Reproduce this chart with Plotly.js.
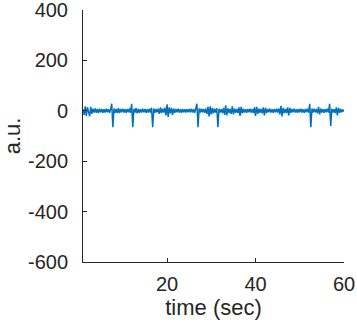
<!DOCTYPE html>
<html>
<head>
<meta charset="utf-8">
<script src="https://cdn.plot.ly/plotly-3.0.1.min.js"></script>
<style>
  html, body { margin: 0; padding: 0; background: #fff; }
  #plot { width: 357px; height: 328px; }
</style>
</head>
<body>
<div id="plot"></div>
<script>
// sampled every 0.25 s starting at t = 1 s
var tStart = 1;
var tStep = 0.25;

// signal (a.u.), 20 samples per row (5 s)
var signal = [
  6, -16, 18, -20, 14, -10, -22, 16, -12, 8, -7, 9, -8, 7, -9, 8, -6, 7, -8, 6,
  -7, 8, -6, 7, -8, 6, 28, -65, 9, -8, 7, -9, 10, -9, 7, -6, 8, -7, 6, -8,
  7, -6, 9, -8, 28, -65, 8, -7, 11, -10, 7, -8, 6, -7, 8, -6, 7, -8, 6, -7,
  8, -7, 12, -65, 9, -8, 7, -6, 8, -12, 14, -9, 8, -7, 12, -18, 26, -24, 14, -10,
  12, -16, 9, -8, 7, -6, 8, -7, 6, -8, 7, -6, 6, -7, 6, -6, 7, -6, 8, -7,
  6, -8, 7, 28, -65, 9, -7, 8, -6, 7, -8, 9, -12, 16, -22, 18, -14, 12, -10, 8,
  -7, 10, -65, 8, -7, 6, -9, 12, -16, 22, -18, 10, -8, 7, -12, 18, -14, 9, -8, 7,
  -9, 14, -20, 16, -10, 8, -7, 6, -8, 7, -6, 8, -7, 6, -9, 14, -20, 16, -12, 9,
  -8, 7, -10, 14, -18, 12, -9, 7, -6, 8, -7, 6, -8, 7, -6, 8, -7, 9, -14, 20,
  -22, 12, -9, 7, -9, 14, -18, 12, -8, 7, -6, 8, -7, 6, -8, 7, -6, 8, -7, 6,
  -8, 7, -6, 8, -7, 28, -65, 9, -7, 8, -6, 7, -10, 16, -14, 9, -7, 6, -8, 7,
  -6, 8, -7, 28, -60, 8, -7, 6, -9, 14, -18, 12, -8, 7, -6, 5, -3
];

var xTicks = [20, 40, 60];
var yTicks = [-600, -400, -200, 0, 200, 400];
var yTickText = ['-600', '-400', '-200', '0', '200', '400'];

var axisColor = '#262626';

var trace = {
  y: signal,
  x0: tStart,
  dx: tStep,
  type: 'scatter',
  mode: 'lines',
  line: { color: '#0072BD', width: 1.5 },
  hoverinfo: 'skip'
};

var layout = {
  width: 357,
  height: 328,
  margin: { l: 83, r: 13, t: 10, b: 66 },
  paper_bgcolor: '#fff',
  plot_bgcolor: '#fff',
  showlegend: false,
  font: { family: 'Liberation Sans, Arial, sans-serif', size: 20, color: axisColor },
  xaxis: {
    range: [1, 60],
    tickvals: xTicks,
    ticks: 'inside',
    ticklen: 4,
    tickcolor: axisColor,
    showline: true,
    linecolor: axisColor,
    linewidth: 1,
    showgrid: false,
    zeroline: false,
    ticklabelstandoff: 4,
    ticklabeloverflow: 'allow',
    title: { text: 'time (sec)', font: { size: 22 }, standoff: 5 }
  },
  yaxis: {
    range: [-600, 400],
    tickvals: yTicks,
    ticktext: yTickText,
    ticks: 'inside',
    ticklen: 4,
    tickcolor: axisColor,
    showline: true,
    linecolor: axisColor,
    linewidth: 1,
    showgrid: false,
    zeroline: false,
    ticklabelstandoff: 10,
    ticklabeloverflow: 'allow',
    title: { text: 'a.u.', font: { size: 22 }, standoff: 10 }
  }
};

Plotly.newPlot('plot', [trace], layout, { staticPlot: true });
</script>
</body>
</html>
